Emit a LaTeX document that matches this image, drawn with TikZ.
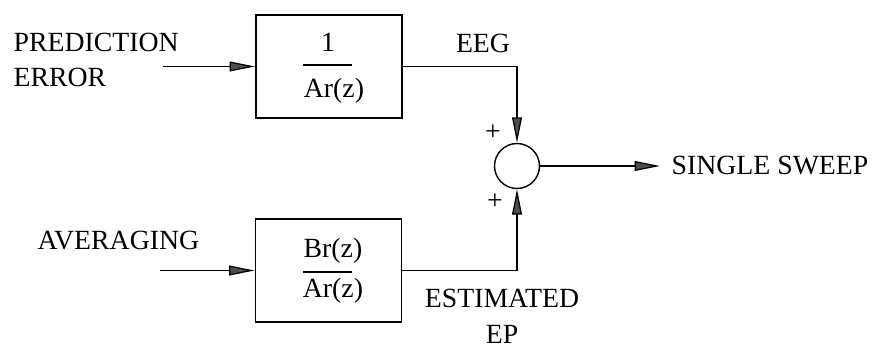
\documentclass[tikz,border=0pt]{standalone}
\usepackage{fontspec}
\setmainfont{Liberation Serif}
\usetikzlibrary{arrows.meta, positioning}

\begin{document}
\begin{tikzpicture}[x=0.02cm, y=-0.02cm, thick, >={Triangle[length=14.5pt, width=5.6pt, fill=black!70]},
        font=\fontsize{15.8}{20.4}\selectfont,
        block/.style={draw, line width=1.1pt, minimum width=2.92cm, minimum height=2.06cm, inner sep=0pt},
        summer/.style={draw, circle, line width=0.8pt, minimum size=0.9cm, inner sep=0pt},
        lbl/.style={inner sep=0pt},
        wire/.style={line width=0.7pt}]
        \useasboundingbox (0,0) rectangle (872,347);

        % Bộ lọc 1/Ar(z) (trên)
        \node[block] (H1) at (329,66.5) {};
        \node[lbl] (N1) at (328,42) {1};
        \node[lbl] (D1) at (334,91) {Ar(z)};
        \draw[wire] (303,65) -- (352,65);

        % Bộ lọc Br(z)/Ar(z) (dưới)
        \node[block] (H2) at (328.5,270.5) {};
        \node[lbl] (N2) at (333,251) {Br(z)};
        \node[lbl] (D2) at (333,291) {Ar(z)};
        \draw[wire] (303,272) -- (352,272);

        % Bộ cộng
        \node[summer] (S) at (517,166) {};
        \node[lbl] at (493,133) {+};
        \node[lbl] at (495,202) {+};

        % Đầu vào
        \node[lbl, align=left, anchor=west] (PE) at (13,60) {PREDICTION\\ERROR};
        \node[lbl, anchor=west] (AV) at (37,241) {AVERAGING};
        \coordinate (in1) at (163,66.5);
        \coordinate (in2) at (160,270.5);
        \draw[wire, ->] (in1) -- (H1.west);
        \draw[wire, ->] (in2) -- (H2.west);

        % Tín hiệu ra
        \draw[wire, ->] (H1.east) -| (S.north);
        \draw[wire, ->] (H2.east) -| (S.south);
        \node[lbl] (EEG) at (483,43) {EEG};
        \node[lbl, align=center] (EP) at (502,316) {ESTIMATED\\EP};

        \coordinate (out) at (660,166);
        \draw[wire, ->] (S.east) -- (out);
        \node[lbl, anchor=west] (SS) at (671,166) {SINGLE SWEEP};
    \end{tikzpicture}
\end{document}
